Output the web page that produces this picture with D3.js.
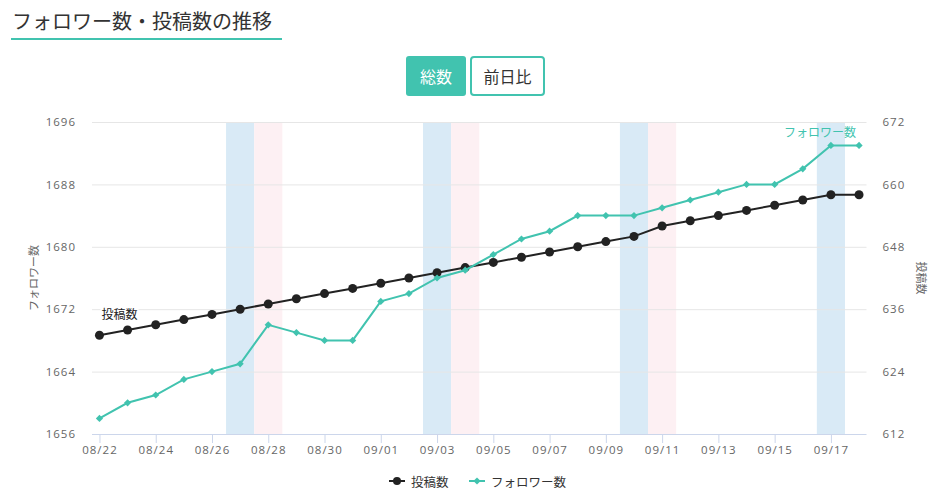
<!DOCTYPE html>
<html>
<head>
<meta charset="utf-8">
<script src="https://cdn.jsdelivr.net/npm/d3@7"></script>
<style>
    body { margin: 0; background: #fff; font-family: "Noto Sans CJK JP", "Noto Sans", sans-serif; }
    #chart { width: 946px; height: 498px; }
</style>
</head>
<body>
<div id="chart"></div>
<script>
var dates = ["08/22", "08/23", "08/24", "08/25", "08/26", "08/27", "08/28", "08/29", "08/30", "08/31",
    "09/01", "09/02", "09/03", "09/04", "09/05", "09/06", "09/07", "09/08", "09/09", "09/10",
    "09/11", "09/12", "09/13", "09/14", "09/15", "09/16", "09/17", "09/18"];
var followers = [1658, 1660, 1661, 1663, 1664, 1665, 1670, 1669, 1668, 1668,
    1673, 1674, 1676, 1677, 1679, 1681, 1682, 1684, 1684, 1684,
    1685, 1686, 1687, 1688, 1688, 1690, 1693, 1693];
var posts = [631, 632, 633, 634, 635, 636, 637, 638, 639, 640,
    641, 642, 643, 644, 645, 646, 647, 648, 649, 650,
    652, 653, 654, 655, 656, 657, 658, 658];
var saturdays = ["08/27", "09/03", "09/10", "09/17"];
var sundays = ["08/28", "09/04", "09/11"];
var leftTicks = [1656, 1664, 1672, 1680, 1688, 1696];
var rightTicks = [612, 624, 636, 648, 660, 672];
var xTickLabels = ["08/22", "08/24", "08/26", "08/28", "08/30", "09/01", "09/03", "09/05",
    "09/07", "09/09", "09/11", "09/13", "09/15", "09/17"];

var teal = "#41c3af";
var dark = "#222";

var svg = d3.select("#chart").append("svg")
    .attr("width", 946)
    .attr("height", 498);

// title + underline
svg.append("text")
    .attr("x", 12)
    .attr("y", 29)
    .attr("font-size", 20)
    .attr("fill", "#333")
    .text("フォロワー数・投稿数の推移");
svg.append("rect")
    .attr("x", 11)
    .attr("y", 38)
    .attr("width", 271)
    .attr("height", 2)
    .attr("fill", teal);

// buttons
var buttons = [
    { label: "総数", x: 406, w: 60, active: true },
    { label: "前日比", x: 470, w: 75, active: false }
];
var btn = svg.selectAll(".btn").data(buttons).enter().append("g").classed("btn", true)
    .attr("transform", function (d) { return "translate(" + d.x + ",56)"; });
btn.append("rect")
    .attr("x", function (d) { return d.active ? 0 : 1; })
    .attr("y", function (d) { return d.active ? 0 : 1; })
    .attr("width", function (d) { return d.active ? d.w : d.w - 2; })
    .attr("height", function (d) { return d.active ? 40 : 38; })
    .attr("rx", 3)
    .attr("fill", function (d) { return d.active ? teal : "#fff"; })
    .attr("stroke", function (d) { return d.active ? "none" : teal; })
    .attr("stroke-width", 2);
btn.append("text")
    .attr("x", function (d) { return d.w / 2; })
    .attr("y", 20)
    .attr("text-anchor", "middle")
    .attr("dominant-baseline", "central")
    .attr("font-size", 16)
    .attr("fill", function (d) { return d.active ? "#fff" : "#333"; })
    .text(function (d) { return d.label; });

// plot area
var plotLeft = 92, plotRight = 866.5, plotTop = 122, plotBottom = 434;

var x = d3.scalePoint().domain(dates).range([plotLeft, plotRight]).padding(0.265);
var step = x.step();
var yL = d3.scaleLinear().domain([1656, 1696]).range([plotBottom, plotTop]);
var yR = d3.scaleLinear().domain([612, 672]).range([plotBottom, plotTop]);

// weekend bands
svg.selectAll(".sat").data(saturdays).enter().append("rect")
    .attr("x", function (d) { return x(d) - step / 2; })
    .attr("y", plotTop)
    .attr("width", step)
    .attr("height", plotBottom - plotTop)
    .attr("fill", "#d9eaf6");
svg.selectAll(".sun").data(sundays).enter().append("rect")
    .attr("x", function (d) { return x(d) - step / 2; })
    .attr("y", plotTop)
    .attr("width", step)
    .attr("height", plotBottom - plotTop)
    .attr("fill", "#fdf0f3");

// grid
svg.selectAll(".grid").data(leftTicks.slice(1)).enter().append("line")
    .attr("x1", plotLeft).attr("x2", plotRight)
    .attr("y1", function (d) { return yL(d) + 0.5; })
    .attr("y2", function (d) { return yL(d) + 0.5; })
    .attr("stroke", "#e6e6e6");

// left axis
var axL = svg.append("g").attr("transform", "translate(" + plotLeft + ",0)")
    .call(d3.axisLeft(yL).tickValues(leftTicks).tickSize(0).tickPadding(16).tickFormat(d3.format("d")));
axL.select(".domain").remove();
axL.selectAll("text").attr("fill", "#666").attr("font-size", 11.5).attr("font-family", "'Open Sans', sans-serif").attr("letter-spacing", 1);

// right axis
var axR = svg.append("g").attr("transform", "translate(" + plotRight + ",0)")
    .call(d3.axisRight(yR).tickValues(rightTicks).tickSize(0).tickPadding(16).tickFormat(d3.format("d")));
axR.select(".domain").remove();
axR.selectAll("text").attr("fill", "#666").attr("font-size", 11.5).attr("font-family", "'Open Sans', sans-serif").attr("letter-spacing", 1);

// bottom axis
var axB = svg.append("g").attr("transform", "translate(0," + plotBottom + ")")
    .call(d3.axisBottom(x).tickValues(xTickLabels).tickSize(9).tickPadding(3));
axB.select(".domain").attr("d", "M" + plotLeft + ",0.5H" + plotRight).attr("stroke", "#ccd6eb");
axB.selectAll("line").attr("stroke", "#ccd6eb");
axB.selectAll("text").attr("fill", "#666").attr("font-size", 11.5).attr("font-family", "'Open Sans', sans-serif").attr("letter-spacing", 1);

// axis titles
svg.append("text")
    .attr("transform", "translate(33,278) rotate(-90)")
    .attr("text-anchor", "middle")
    .attr("dominant-baseline", "central")
    .attr("font-size", 11)
    .attr("fill", "#666")
    .text("フォロワー数");
svg.append("text")
    .attr("transform", "translate(922,278) rotate(90)")
    .attr("text-anchor", "middle")
    .attr("dominant-baseline", "central")
    .attr("font-size", 11)
    .attr("fill", "#666")
    .text("投稿数");

// posts line
var postLine = d3.line()
    .x(function (d, i) { return x(dates[i]); })
    .y(function (d) { return yR(d); });
svg.append("path")
    .datum(posts)
    .attr("d", postLine)
    .attr("fill", "none")
    .attr("stroke", dark)
    .attr("stroke-width", 2);
svg.selectAll(".pdot").data(posts).enter().append("circle")
    .attr("cx", function (d, i) { return x(dates[i]); })
    .attr("cy", function (d) { return yR(d); })
    .attr("r", 4.5)
    .attr("fill", dark);

// followers line
var followLine = d3.line()
    .x(function (d, i) { return x(dates[i]); })
    .y(function (d) { return yL(d); });
svg.append("path")
    .datum(followers)
    .attr("d", followLine)
    .attr("fill", "none")
    .attr("stroke", teal)
    .attr("stroke-width", 2);
var diamond = d3.symbol().type(d3.symbolSquare).size(26);
svg.selectAll(".fdot").data(followers).enter().append("path")
    .attr("d", diamond)
    .attr("transform", function (d, i) { return "translate(" + x(dates[i]) + "," + yL(d) + ") rotate(45)"; })
    .attr("fill", teal);

// series labels
svg.append("text")
    .attr("x", x(dates[0]) + 2)
    .attr("y", yR(posts[0]) - 22)
    .attr("dominant-baseline", "central")
    .attr("font-size", 12)
    .attr("fill", dark)
    .attr("stroke", "#fff")
    .attr("stroke-width", 3)
    .attr("paint-order", "stroke")
    .text("投稿数");
svg.append("text")
    .attr("x", x(dates[dates.length - 1]) - 3)
    .attr("y", yL(followers[followers.length - 1]) - 14)
    .attr("text-anchor", "end")
    .attr("dominant-baseline", "central")
    .attr("font-size", 12)
    .attr("fill", teal)
    .text("フォロワー数");

// legend
var legend = [
    { label: "投稿数", color: dark, x: 389, shape: "circle" },
    { label: "フォロワー数", color: teal, x: 469, shape: "diamond" }
];
var lg = svg.selectAll(".legend").data(legend).enter().append("g")
    .attr("transform", function (d) { return "translate(" + d.x + ",481)"; });
lg.append("line")
    .attr("x1", 0).attr("x2", 16)
    .attr("stroke", function (d) { return d.color; })
    .attr("stroke-width", 2);
lg.each(function (d) {
    var g = d3.select(this);
    if (d.shape === "circle") {
        g.append("circle").attr("cx", 8).attr("r", 4).attr("fill", d.color);
    } else {
        g.append("path").attr("d", diamond).attr("transform", "translate(8,0) rotate(45)").attr("fill", d.color);
    }
});
lg.append("text")
    .attr("x", 22)
    .attr("dominant-baseline", "central")
    .attr("font-size", 12.5)
    .attr("fill", "#333")
    .text(function (d) { return d.label; });
</script>
</body>
</html>
